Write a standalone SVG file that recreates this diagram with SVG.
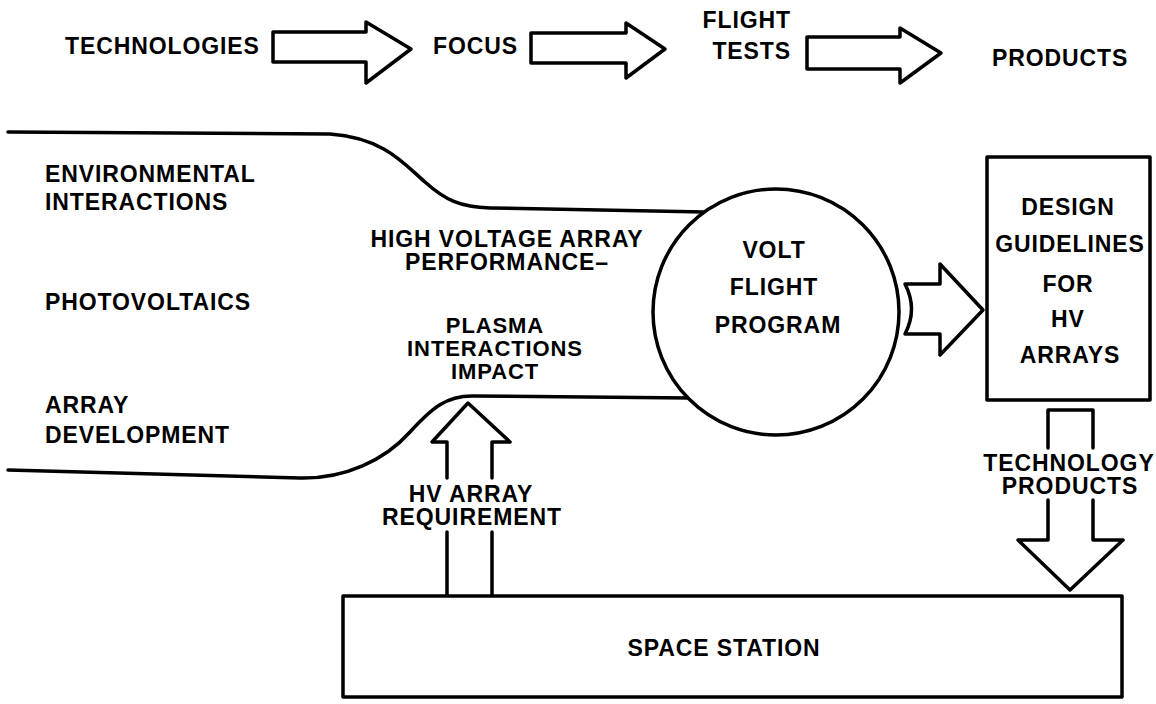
<svg xmlns="http://www.w3.org/2000/svg" width="1156" height="704" viewBox="0 0 1156 704">
<style>
  text { font-family: "Liberation Sans", Arial, sans-serif; font-weight: bold; font-size: 23px; fill: #000; letter-spacing: 0.9px; }
  .mid { text-anchor: middle; }
  .end { text-anchor: end; }
  .sm { font-size: 22px; }
  .ln { fill: none; stroke: #000; stroke-width: 3.5; stroke-linejoin: round; stroke-linecap: round; }
  .shape { fill: #fff; stroke: #000; stroke-width: 3.5; stroke-linejoin: round; }
</style>
<rect width="1156" height="704" fill="#fff"/>

<g id="connectors">
  <path class="ln" d="M8,132 L330,134 C385,138 405,165 425,182 C445,200 460,207 490,208 L705,212"/>
  <path class="ln" d="M8,470 L300,478 C345,479 385,460 410,432 C432,408 446,396 472,396 L690,398"/>
  <polygon class="shape" points="273,32 366,32 366,22 411,49 366,83 366,62 273,62"/>
  <polygon class="shape" points="531,33 626,33 626,23 665,49 626,78 626,63 531,63"/>
  <polygon class="shape" points="807,37 900,37 900,28 941,53 900,83 900,69 807,69"/>
  <path class="shape" d="M905,284 L940,284 L940,264 L983,310 L940,355 L940,334 L905,334 Q918,309 905,284 Z"/>
  <path class="ln" d="M447,478 L447,442 L432,442 L468,403 L510,442 L492,442 L492,478"/>
  <path class="ln" d="M447,595 L447,532 M492,532 L492,595"/>
  <path class="ln" d="M1048,448 L1048,410 L1093,410 L1093,448"/>
  <path class="ln" d="M1048,500 L1048,540 L1018,540 L1070,590 L1123,540 L1093,540 L1093,500"/>
</g>

<g id="top-labels">
  <text x="65" y="54">TECHNOLOGIES</text>
  <text x="433" y="54">FOCUS</text>
  <text class="end" x="791" y="28">FLIGHT</text>
  <text class="end" x="791" y="59">TESTS</text>
  <text x="992" y="66">PRODUCTS</text>
</g>

<g id="technologies">
  <text x="45" y="182">ENVIRONMENTAL</text>
  <text x="45" y="210">INTERACTIONS</text>
  <text x="45" y="310">PHOTOVOLTAICS</text>
  <text x="45" y="413">ARRAY</text>
  <text x="45" y="443">DEVELOPMENT</text>
</g>

<g id="focus">
  <text class="mid" x="507" y="247">HIGH VOLTAGE ARRAY</text>
  <text class="mid" x="507" y="270">PERFORMANCE–</text>
  <text class="mid sm" x="495" y="333">PLASMA</text>
  <text class="mid sm" x="495" y="356">INTERACTIONS</text>
  <text class="mid sm" x="495" y="379">IMPACT</text>
</g>

<g id="volt-flight-program">
  <circle class="shape" cx="776" cy="312" r="123"/>
  <text class="mid" x="774" y="258">VOLT</text>
  <text class="mid" x="774" y="295">FLIGHT</text>
  <text class="mid" x="778" y="333">PROGRAM</text>
</g>

<g id="design-guidelines">
  <rect class="shape" x="987" y="157" width="163" height="243"/>
  <text class="mid" x="1068" y="215">DESIGN</text>
  <text class="mid" x="1070" y="252">GUIDELINES</text>
  <text class="mid" x="1068" y="292">FOR</text>
  <text class="mid" x="1068" y="327">HV</text>
  <text class="mid" x="1070" y="363">ARRAYS</text>
</g>

<g id="technology-products">
  <text class="mid" x="1069" y="471">TECHNOLOGY</text>
  <text class="mid" x="1070" y="494">PRODUCTS</text>
</g>

<g id="hv-array-requirement">
  <text class="mid" x="471" y="502">HV ARRAY</text>
  <text class="mid" x="472" y="525">REQUIREMENT</text>
</g>

<g id="space-station">
  <rect class="shape" x="343" y="596" width="779" height="101"/>
  <text class="mid" x="724" y="656">SPACE STATION</text>
</g>
</svg>
